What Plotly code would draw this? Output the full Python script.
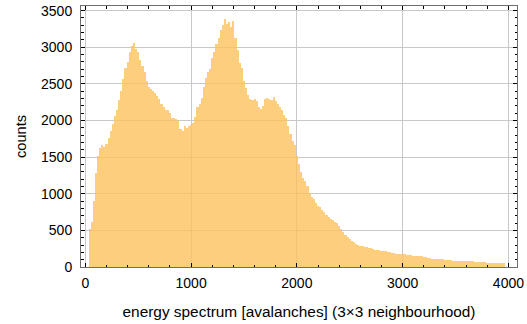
import plotly.graph_objects as go

# Histogram: bin width 20, first bin starts at 30
BIN_START = 30
BIN_WIDTH = 20
counts = [
    520, 620, 900, 1280, 1520, 1620, 1660, 1640, 1680, 1760,
    1860, 1950, 2060, 2150, 2280, 2400, 2560, 2720, 2800, 2930,
    3020, 3060, 2980, 2930, 2830, 2740, 2660, 2540, 2460, 2430,
    2400, 2370, 2340, 2300, 2220, 2180, 2140, 2150, 2100, 2040,
    2030, 2020, 1990, 1880, 1850, 1920, 1900, 1930, 1940, 1960,
    2050, 2180, 2230, 2310, 2460, 2580, 2660, 2700, 2850, 2930,
    3050, 3120, 3240, 3300, 3380, 3320, 3340, 3270, 3360, 3120,
    2960, 2790, 2720, 2540, 2450, 2350, 2290, 2280, 2290, 2260,
    2190, 2160, 2200, 2290, 2310, 2300, 2280, 2320, 2270, 2230,
    2190, 2140, 2070, 2040, 1920, 1820, 1720, 1660, 1520, 1400,
    1300, 1220, 1180, 1100, 1010, 960, 930, 880, 830, 815,
    785, 745, 710, 685, 660, 645, 620, 595, 560, 515,
    480, 435, 405, 380, 360, 342, 320, 302, 292, 282,
    272, 268, 262, 256, 242, 238, 232, 228, 222, 220,
    216, 210, 204, 198, 188, 184, 180, 176, 174, 172,
    170, 168, 162, 156, 150, 150, 148, 146, 142, 132,
    120, 118, 114, 110, 108, 110, 108, 109, 102, 98,
    95, 92, 88, 86, 84, 83, 82, 82, 82, 81,
    80, 76, 74, 72, 70, 68, 66, 64, 60, 58,
    55, 52, 50, 50, 49, 48, 48,
]
bin_centers = [BIN_START + BIN_WIDTH * (i + 0.5) for i in range(len(counts))]

x_ticks = [0, 1000, 2000, 3000, 4000]
y_ticks = [0, 500, 1000, 1500, 2000, 2500, 3000, 3500]

FONT = "Liberation Sans, Arial, sans-serif"
GRID = "rgb(200,200,200)"
FRAME = "rgb(110,110,110)"

fig = go.Figure()
fig.add_trace(go.Bar(
    x=bin_centers, y=counts, width=BIN_WIDTH,
    marker=dict(color="rgba(251,194,94,0.8)", line=dict(width=0)),
    hoverinfo="x+y",
))

fig.update_layout(
    width=527, height=324,
    margin=dict(l=81, r=10, t=6, b=57),
    paper_bgcolor="white", plot_bgcolor="white",
    bargap=0, showlegend=False,
    font=dict(family=FONT, size=14, color="black"),
)
fig.update_xaxes(
    range=[-41, 4081], tickvals=x_ticks, ticktext=[str(v) for v in x_ticks],
    tickfont=dict(size=14), ticklabelstandoff=3,
    showgrid=True, gridcolor=GRID, gridwidth=1, zeroline=False,
    showline=True, linecolor=FRAME, linewidth=1, mirror="allticks",
    ticks="inside", ticklen=4, tickcolor="black", tickwidth=1,
    minor=dict(dtick=200, tick0=0, ticks="inside", ticklen=2.5, tickcolor="black", showgrid=False),
    title=dict(text="energy spectrum [avalanches] (3×3 neighbourhood)", standoff=16,
               font=dict(size=15.4)),
    automargin=False,
)
fig.update_yaxes(
    range=[0, 3563], tickvals=y_ticks, ticktext=[str(v) for v in y_ticks],
    tickfont=dict(size=14), ticklabelstandoff=5,
    showgrid=True, gridcolor=GRID, gridwidth=1, zeroline=False,
    showline=True, linecolor=FRAME, linewidth=1, mirror="allticks",
    ticks="inside", ticklen=4, tickcolor="black", tickwidth=1,
    minor=dict(dtick=100, tick0=0, ticks="inside", ticklen=2.5, tickcolor="black", showgrid=False),
    title=dict(text="counts", standoff=10, font=dict(size=14.6)),
    automargin=False,
)

fig.write_html("out.html")
